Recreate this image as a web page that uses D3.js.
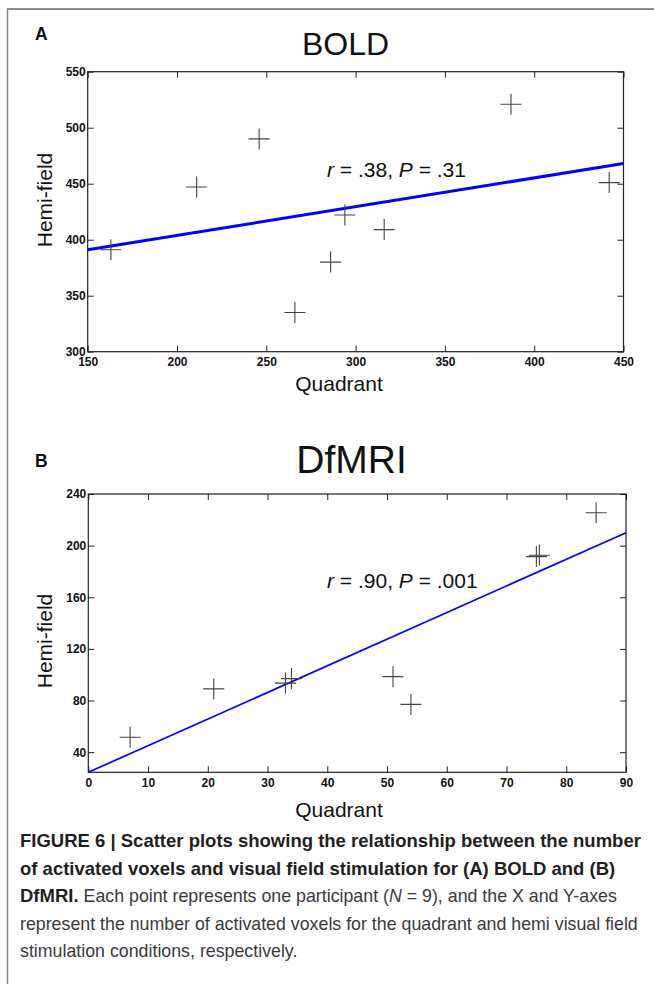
<!DOCTYPE html>
<html>
<head>
<meta charset="utf-8">
<script src="https://cdn.jsdelivr.net/npm/d3@7"></script>
<style>
  body { margin: 0; background: #fff; }
  svg { display: block; font-family: "Liberation Sans", Arial, sans-serif; }
</style>
</head>
<body>
<svg id="fig" width="654" height="984"></svg>
<script>
// panel A: BOLD
var boldQuadrant = [163, 211, 246, 266, 286, 294, 316, 387, 442];
var boldHemi = [391, 447, 490, 335, 380, 422, 409, 521, 451];
var boldFit = [391, 468];          // fitted hemi-field at x = 150 and x = 450
var boldXTicks = [150, 200, 250, 300, 350, 400, 450];
var boldYTicks = [300, 350, 400, 450, 500, 550];

// panel B: DfMRI
var dfQuadrant = [7, 21, 33, 34, 51, 54, 75, 75.5, 85];
var dfHemi = [51.5, 89, 93.5, 97, 98.5, 77, 191.5, 192.5, 225.5];
var dfFit = [24.4, 210];           // fitted hemi-field at x = 0 and x = 90
var dfXTicks = [0, 10, 20, 30, 40, 50, 60, 70, 80, 90];
var dfYTicks = [40, 80, 120, 160, 200, 240];

var captionLines = [
    [{t: "FIGURE 6 | Scatter plots showing the relationship between the number", b: true}],
    [{t: "of activated voxels and visual field stimulation for (A) BOLD and (B)", b: true}],
    [{t: "DfMRI.", b: true}, {t: " Each point represents one participant ("}, {t: "N", i: true}, {t: " = 9), and the X and Y-axes"}],
    [{t: "represent the number of activated voxels for the quadrant and hemi visual field"}],
    [{t: "stimulation conditions, respectively."}]
];

var svg = d3.select("#fig");

// frame of the figure (top and left edges only)
svg.append("line")
    .attr("x1", 7).attr("x2", 654).attr("y1", 9).attr("y2", 9)
    .attr("stroke", "#666").attr("stroke-width", 1.5);
svg.append("line")
    .attr("x1", 7.5).attr("x2", 7.5).attr("y1", 9).attr("y2", 984)
    .attr("stroke", "#888").attr("stroke-width", 1.5);

function drawPanel(p) {
    var x = d3.scaleLinear().domain(p.xDomain).range([p.left, p.right]);
    var y = d3.scaleLinear().domain(p.yDomain).range([p.bottom, p.top]);
    var tickLen = 6;

    var g = svg.append("g").attr("class", "panel");

    // ticks on all four sides, pointing inward
    g.append("g")
        .attr("transform", "translate(0," + p.bottom + ")")
        .call(d3.axisBottom(x).tickValues(p.xTicks).tickSize(-tickLen).tickPadding(6).tickFormat(d3.format("d")));
    g.append("g")
        .attr("transform", "translate(0," + p.top + ")")
        .call(d3.axisTop(x).tickValues(p.xTicks).tickSize(-tickLen).tickFormat(""));
    g.append("g")
        .attr("transform", "translate(" + p.left + ",0)")
        .call(d3.axisLeft(y).tickValues(p.yTicks).tickSize(-tickLen).tickPadding(2).tickFormat(d3.format("d")));
    g.append("g")
        .attr("transform", "translate(" + p.right + ",0)")
        .call(d3.axisRight(y).tickValues(p.yTicks).tickSize(-tickLen).tickFormat(""));

    g.selectAll(".domain").remove();
    g.selectAll(".tick line").attr("stroke", "#222").attr("stroke-width", 1);
    g.selectAll(".tick text")
        .style("font-family", "'Liberation Sans', Arial, sans-serif")
        .style("font-weight", "bold")
        .style("font-size", "12px")
        .attr("fill", "#111");

    g.append("rect")
        .attr("x", p.left).attr("y", p.top)
        .attr("width", p.right - p.left).attr("height", p.bottom - p.top)
        .attr("fill", "none").attr("stroke", "#222").attr("stroke-width", 1.2);

    // regression line
    g.append("line")
        .attr("x1", x(p.xDomain[0])).attr("y1", y(p.fit[0]))
        .attr("x2", x(p.xDomain[1])).attr("y2", y(p.fit[1]))
        .attr("stroke", "#0000ff")
        .attr("stroke-width", p.fitWidth);

    // '+' markers
    var pts = p.xs.map(function(d, i) { return {qx: d, hy: p.ys[i]}; });
    var h = 10.5;
    g.selectAll(".cross")
        .data(pts)
        .enter().append("path")
        .attr("class", "cross")
        .attr("d", function(d) {
            var cx = x(d.qx), cy = y(d.hy);
            return "M" + (cx - h) + "," + cy + "H" + (cx + h) + "M" + cx + "," + (cy - h) + "V" + (cy + h);
        })
        .attr("fill", "none")
        .attr("stroke", "#444")
        .attr("stroke-width", 1.1);

    // titles and labels
    g.append("text")
        .text(p.title)
        .attr("x", p.titleX).attr("y", p.titleY)
        .attr("text-anchor", "middle")
        .attr("font-size", p.titleSize)
        .attr("fill", "#111");

    g.append("text")
        .text(p.letter)
        .attr("x", 35).attr("y", p.letterY)
        .attr("font-weight", "bold")
        .attr("font-size", 17.5)
        .attr("fill", "#111");

    g.append("text")
        .text("Quadrant")
        .attr("x", 339).attr("y", p.xLabelY)
        .attr("text-anchor", "middle")
        .attr("font-size", 21)
        .attr("fill", "#111");

    g.append("text")
        .text("Hemi-field")
        .attr("transform", "translate(51.5," + p.yLabelY + ") rotate(-90)")
        .attr("text-anchor", "middle")
        .attr("font-size", 21)
        .attr("fill", "#111");

    var stat = g.append("text")
        .attr("x", p.statX).attr("y", p.statY)
        .attr("font-size", 21)
        .attr("fill", "#111");
    stat.append("tspan").attr("font-style", "italic").text("r");
    stat.append("tspan").text(" = " + p.r + ", ");
    stat.append("tspan").attr("font-style", "italic").text("P");
    stat.append("tspan").text(" = " + p.pval);
}

drawPanel({
    xs: boldQuadrant, ys: boldHemi, fit: boldFit,
    xDomain: [150, 450], yDomain: [300, 550],
    xTicks: boldXTicks, yTicks: boldYTicks,
    left: 87.7, right: 623.5, top: 71.7, bottom: 351.7,
    fitWidth: 3,
    title: "BOLD", titleX: 345.5, titleY: 55, titleSize: 32,
    letter: "A", letterY: 40,
    xLabelY: 391, yLabelY: 200,
    statX: 327, statY: 176.5, r: ".38", pval: ".31"
});

drawPanel({
    xs: dfQuadrant, ys: dfHemi, fit: dfFit,
    xDomain: [0, 90], yDomain: [24.4, 240],
    xTicks: dfXTicks, yTicks: dfYTicks,
    left: 88.3, right: 626, top: 494, bottom: 772.3,
    fitWidth: 1.7,
    title: "DfMRI", titleX: 351.5, titleY: 473, titleSize: 39,
    letter: "B", letterY: 467.3,
    xLabelY: 817, yLabelY: 641,
    statX: 327, statY: 588.3, r: ".90", pval: ".001"
});

// caption
var cap = svg.append("g");
captionLines.forEach(function(line, i) {
    var t = cap.append("text")
        .attr("x", 20)
        .attr("y", 847 + i * 27.6);
    line.forEach(function(s) {
        t.append("tspan")
            .attr("font-weight", s.b ? "bold" : null)
            .attr("font-style", s.i ? "italic" : null)
            .attr("font-size", s.b ? 18.5 : 17.8)
            .attr("fill", s.b ? "#231f20" : "#3a3a3a")
            .text(s.t);
    });
});
</script>
</body>
</html>
